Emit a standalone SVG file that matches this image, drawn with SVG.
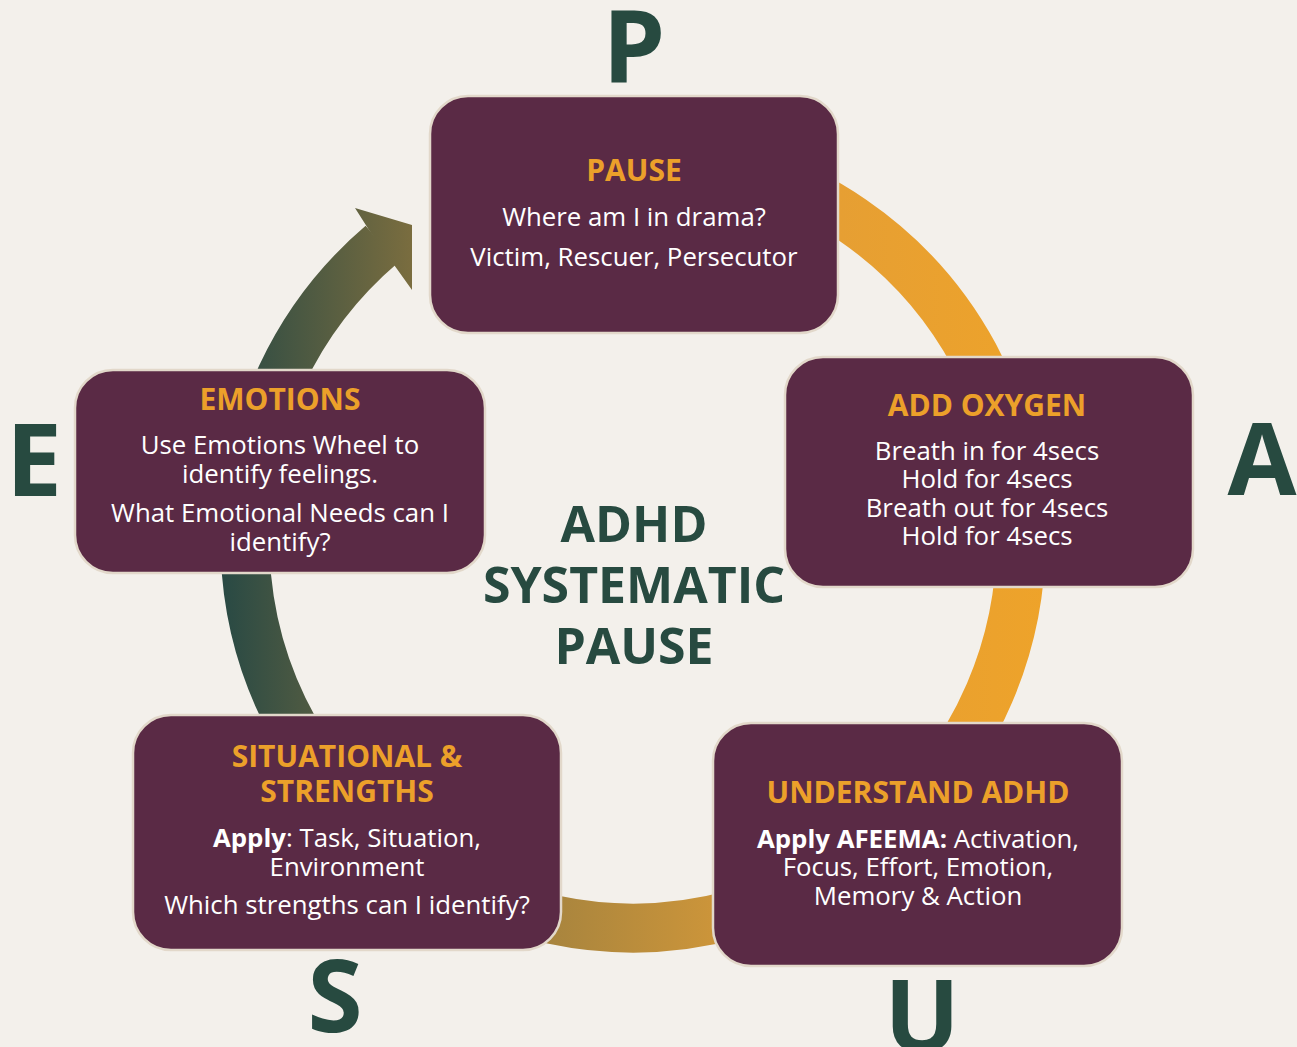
<svg xmlns="http://www.w3.org/2000/svg" width="1297" height="1047" viewBox="0 0 1297 1047">
  <style>
    .box { fill: #5a2a45; stroke: #e2d8ca; stroke-width: 2.5; }
    .head { font-family: "Open Sans", "Noto Sans", sans-serif; font-weight: 700; font-size: 30px; fill: #eca02a; text-anchor: middle; }
    .body { font-family: "Open Sans", "Noto Sans", sans-serif; font-weight: 400; font-size: 25.8px; fill: #ffffff; text-anchor: middle; }
    .b { font-weight: 700; }
    .letter { font-family: "Open Sans", "Noto Sans", sans-serif; font-weight: 700; font-size: 100px; fill: #274a40; text-anchor: middle; }
    .title { font-family: "Open Sans", "Noto Sans", sans-serif; font-weight: 700; font-size: 50px; fill: #274a40; text-anchor: middle; }
  </style>
  <defs>
    <linearGradient id="ringGrad" gradientUnits="userSpaceOnUse" x1="225" y1="0" x2="1045" y2="0">
      <stop offset="0" stop-color="#2a4a44"/>
      <stop offset="0.228" stop-color="#7a6d3f"/>
      <stop offset="0.39" stop-color="#a7843e"/>
      <stop offset="0.598" stop-color="#cc953a"/>
      <stop offset="0.75" stop-color="#e69f33"/>
      <stop offset="1" stop-color="#eea32a"/>
    </linearGradient>
  </defs>

  <rect width="1297" height="1047" fill="#f3f0eb"/>

  <!-- cycle ring with arrowhead -->
  <g id="connectors">
    <path d="M 381.5 244.5 A 388 388 0 1 0 700.4 157.9" fill="none" stroke="url(#ringGrad)" stroke-width="49"/>
    <polygon points="369,230 355,208 412,225 412,290 397,269" fill="url(#ringGrad)"/>
  </g>

  <!-- side letters -->
  <g id="letters">
    <text class="letter" x="634" y="83">P</text>
    <text class="letter" x="1262" y="495">A</text>
    <text class="letter" x="34" y="496">E</text>
    <text class="letter" x="335" y="1032">S</text>
    <text class="letter" x="922" y="1052">U</text>
  </g>

  <g id="center-title">
    <text class="title" x="634" y="542">ADHD</text>
    <text class="title" x="634" y="603">SYSTEMATIC</text>
    <text class="title" x="634" y="664">PAUSE</text>
  </g>

  <g id="pause">
    <rect class="box" x="430" y="96" width="408" height="237" rx="38"/>
    <text class="head" x="634" y="181">PAUSE</text>
    <text class="body" x="634" y="226">Where am I in drama?</text>
    <text class="body" x="634" y="266">Victim, Rescuer, Persecutor</text>
  </g>

  <g id="add-oxygen">
    <rect class="box" x="785" y="357" width="408" height="230" rx="38"/>
    <text class="head" x="987" y="416">ADD OXYGEN</text>
    <text class="body" x="987" y="460">Breath in for 4secs</text>
    <text class="body" x="987" y="488">Hold for 4secs</text>
    <text class="body" x="987" y="517">Breath out for 4secs</text>
    <text class="body" x="987" y="545">Hold for 4secs</text>
  </g>

  <g id="emotions">
    <rect class="box" x="75" y="370" width="410" height="203" rx="38"/>
    <text class="head" x="280" y="410">EMOTIONS</text>
    <text class="body" x="280" y="454">Use Emotions Wheel to</text>
    <text class="body" x="280" y="483">identify feelings.</text>
    <text class="body" x="280" y="522">What Emotional Needs can I</text>
    <text class="body" x="280" y="551">identify?</text>
  </g>

  <g id="situational">
    <rect class="box" x="133" y="715" width="428" height="235" rx="38"/>
    <text class="head" x="347" y="767">SITUATIONAL &amp;</text>
    <text class="head" x="347" y="802">STRENGTHS</text>
    <text class="body" x="347" y="847"><tspan class="b">Apply</tspan>: Task, Situation,</text>
    <text class="body" x="347" y="876">Environment</text>
    <text class="body" x="347" y="914">Which strengths can I identify?</text>
  </g>

  <g id="understand">
    <rect class="box" x="713" y="723" width="409" height="243" rx="38"/>
    <text class="head" x="918" y="803">UNDERSTAND ADHD</text>
    <text class="body" x="918" y="848"><tspan class="b">Apply AFEEMA:</tspan> Activation,</text>
    <text class="body" x="918" y="876">Focus, Effort, Emotion,</text>
    <text class="body" x="918" y="905">Memory &amp; Action</text>
  </g>
</svg>
